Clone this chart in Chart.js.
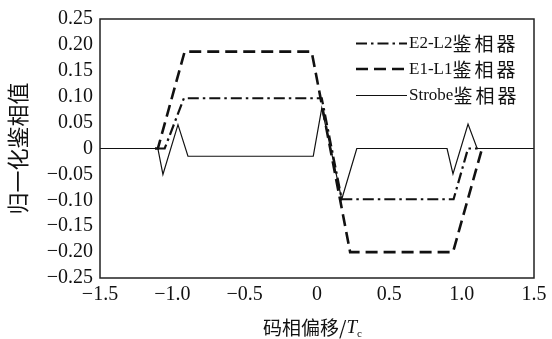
<html lang="zh">
  <head>
    <meta charset="UTF-8" />
    <script src="https://cdn.jsdelivr.net/npm/chart.js@4.4.1/dist/chart.umd.min.js"></script>
    <style>
      body { margin: 0; background: #fff; }
      #wrap { width: 552px; height: 339px; }
    </style>
  </head>
  <body>
    <div id="wrap"><canvas id="phaseCanvas" width="552" height="339"></canvas></div>
    <script>
      // Data (code phase offset in chips, normalized discriminator output)
      const e2l2X = [-1.1, -1.053, -0.92, 0.033, 0.171, 0.944, 1.044, 1.11];
      const e2l2Y = [0, 0, 0.097, 0.097, -0.098, -0.098, 0, 0];

      const e1l1X = [-1.12, -1.1, -0.915, -0.037, 0.229, 0.94, 1.141];
      const e1l1Y = [0, 0, 0.187, 0.187, -0.2, -0.2, 0];

      const strobeX = [-1.5, -1.1, -1.065, -0.961, -0.892, -0.026, 0.033, 0.171, 0.275, 0.899, 0.94, 1.044, 1.107, 1.5];
      const strobeY = [0, 0, -0.05, 0.046, -0.015, -0.015, 0.078, -0.098, 0, 0, -0.049, 0.047, 0, 0];

      const seriesLabels = ["E2-L2鉴相器", "E1-L1鉴相器", "Strobe鉴相器"];
      const xTickLabels = ["−1.5", "−1.0", "−0.5", "0", "0.5", "1.0", "1.5"];
      const yTickLabels = ["−0.25", "−0.20", "−0.15", "−0.10", "−0.05", "0", "0.05", "0.10", "0.15", "0.20", "0.25"];
      const yTitle = "归一化鉴相值";
      const xTitleMain = "码相偏移/";
      const xTitleVar = "T";
      const xTitleSub = "c";

      const serif = '"Liberation Serif", "Times New Roman", serif';
      const cjk = '"Noto Sans CJK SC", "Noto Sans", sans-serif';

      function toPoints(xs, ys) {
        return xs.map((x, i) => ({ x: x, y: ys[i] }));
      }

      // draw text made of runs with different fonts
      function drawRuns(ctx, runs, x, y) {
        ctx.save();
        ctx.textBaseline = "middle";
        ctx.textAlign = "left";
        ctx.fillStyle = "#111";
        for (const r of runs) {
          ctx.font = r.font;
          ctx.letterSpacing = r.spacing || "0px";
          ctx.fillText(r.text, x, y + (r.dy || 0));
          x += ctx.measureText(r.text).width;
        }
        ctx.restore();
      }

      function splitRuns(label, latinFont, cjkFont) {
        const parts = label.match(/[\x00-\x7f]+|[^\x00-\x7f]+/g);
        return parts.map((p) =>
          /^[\x00-\x7f]+$/.test(p)
            ? { text: p, font: latinFont }
            : { text: p, font: cjkFont, spacing: "3px" }
        );
      }

      const framePlugin = {
        id: "frame",
        afterDatasetsDraw(chart) {
          const ctx = chart.ctx;
          const a = chart.chartArea;
          ctx.save();
          ctx.strokeStyle = "#222";
          ctx.lineWidth = 1.5;
          ctx.strokeRect(a.left, a.top, a.right - a.left, a.bottom - a.top);
          ctx.restore();

          // legend
          const rows = [43.5, 69, 95.5];
          chart.data.datasets.forEach((ds, i) => {
            ctx.save();
            ctx.strokeStyle = "#111";
            ctx.lineWidth = ds.borderWidth;
            ctx.setLineDash(ds.borderDash || []);
            ctx.beginPath();
            ctx.moveTo(356, rows[i]);
            ctx.lineTo(407, rows[i]);
            ctx.stroke();
            ctx.restore();
            drawRuns(ctx, splitRuns(ds.label, "17px " + serif, "19px " + cjk), 409, rows[i] + 0.5);
          });

          // x axis title with italic T and subscript c
          drawRuns(
            ctx,
            [
              { text: xTitleMain, font: "19px " + cjk },
              { text: xTitleVar, font: "italic 19px " + serif },
              { text: xTitleSub, font: "11px " + serif, dy: 6 },
            ],
            263,
            328
          );
        },
      };

      const ctx = document.getElementById("phaseCanvas").getContext("2d");
      new Chart(ctx, {
        type: "line",
        data: {
          datasets: [
            {
              label: seriesLabels[0],
              data: toPoints(e2l2X, e2l2Y),
              borderColor: "#111",
              borderWidth: 2.2,
              borderDash: [11, 4, 2.5, 4],
              pointRadius: 0,
              fill: false,
            },
            {
              label: seriesLabels[1],
              data: toPoints(e1l1X, e1l1Y),
              borderColor: "#111",
              borderWidth: 2.6,
              borderDash: [12, 6],
              pointRadius: 0,
              fill: false,
            },
            {
              label: seriesLabels[2],
              data: toPoints(strobeX, strobeY),
              borderColor: "#111",
              borderWidth: 1.2,
              pointRadius: 0,
              fill: false,
            },
          ],
        },
        options: {
          responsive: false,
          animation: false,
          layout: { padding: { left: 0, right: 18, top: 17, bottom: 0 } },
          plugins: {
            legend: { display: false },
            tooltip: { enabled: false },
          },
          scales: {
            x: {
              type: "linear",
              min: -1.5,
              max: 1.5,
              grid: { display: false, drawTicks: false },
              border: { display: false },
              ticks: {
                stepSize: 0.5,
                padding: 5,
                color: "#111",
                autoSkip: false,
                font: { family: serif, size: 20 },
                maxRotation: 0,
                callback: (v, i) => xTickLabels[i],
              },
              afterFit: (scale) => {
                scale.height = 61;
              },
            },
            y: {
              min: -0.25,
              max: 0.25,
              grid: { display: false, drawTicks: false },
              border: { display: false },
              ticks: {
                stepSize: 0.05,
                padding: 7,
                color: "#111",
                autoSkip: false,
                font: { family: serif, size: 20 },
                callback: (v, i) => yTickLabels[i],
              },
              title: {
                display: true,
                text: yTitle,
                color: "#111",
                font: { family: cjk, size: 22 },
                padding: { top: 4, bottom: 0 },
              },
              afterFit: (scale) => {
                scale.width = 100;
              },
            },
          },
        },
        plugins: [framePlugin],
      });
    </script>
  </body>
</html>
